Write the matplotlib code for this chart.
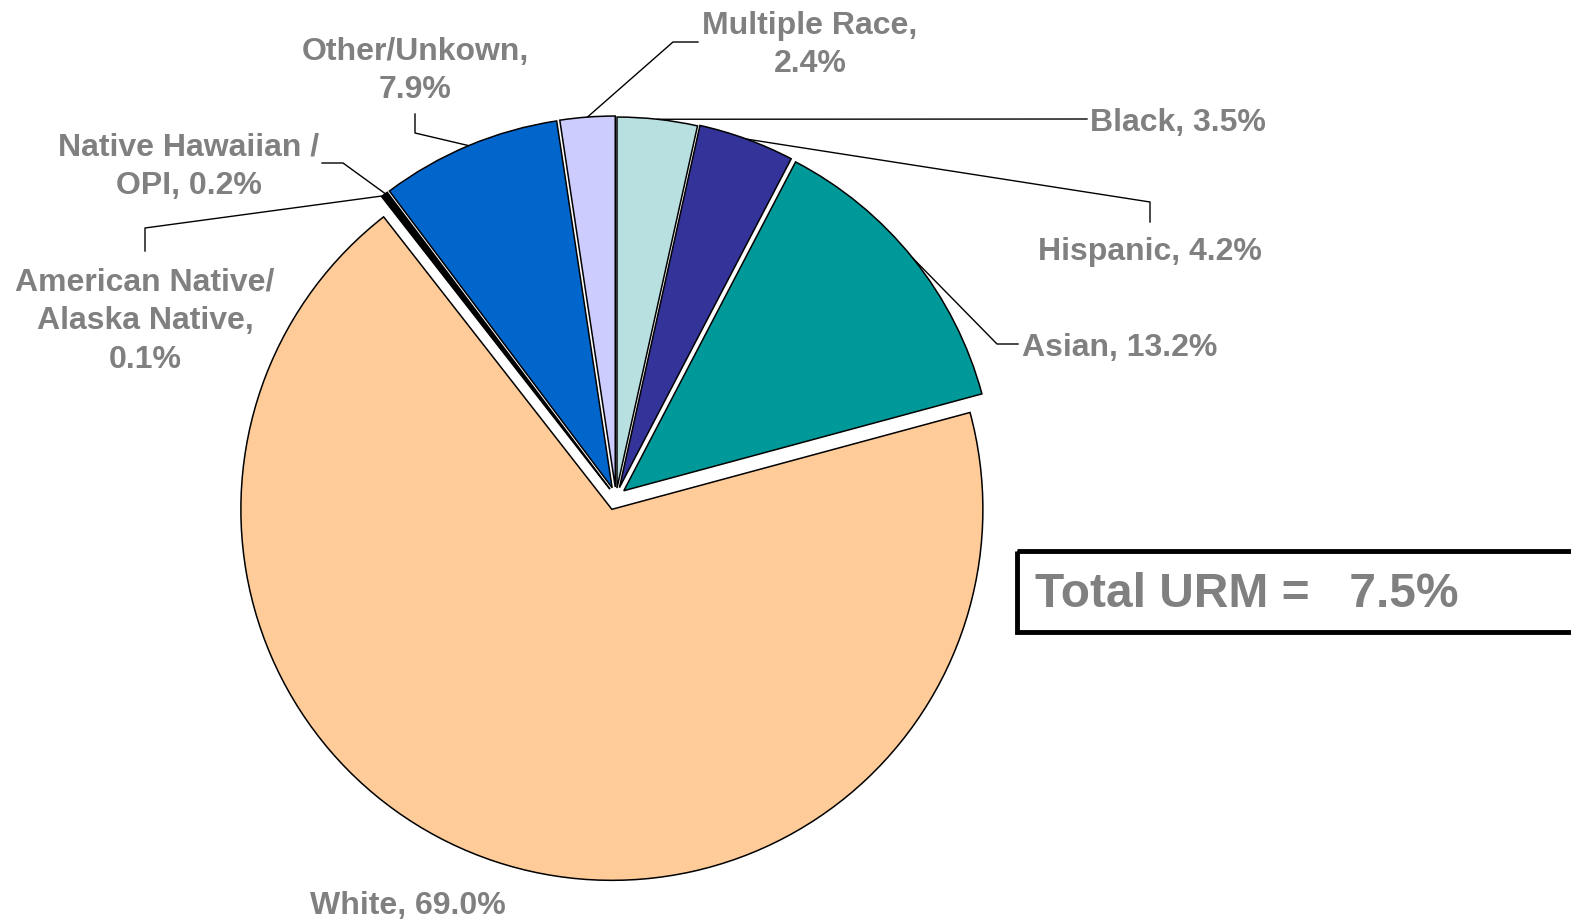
import numpy as np
import matplotlib.pyplot as plt
from matplotlib.patches import Rectangle

# share of each group, clockwise from 12 o'clock
groups = ["Black", "Hispanic", "Asian", "White",
          "American Native/\nAlaska Native", "Native Hawaiian /\nOPI",
          "Other/Unkown", "Multiple Race"]
shares = [3.5, 4.2, 13.2, 69.0, 0.1, 0.2, 7.9, 2.4]
wrapped = [False, False, False, False, True, False, True, True]
urm_total = 7.5

colors = ["#B8E0E1", "#333399", "#009999", "#FFCC99",
          "#000000", "#000000", "#0066CC", "#CCCCFF"]
explode = [9, 10, 10, 13, 10, 10, 10, 10]

GRAY = "#808080"
FONT = "Liberation Sans"

# label placement: (x, y, ha, elbow points from the wedge out to the text)
label_pos = [
    (1090, 123, "left", [(1087, 120)]),
    (1150, 252, "center", [(1150, 203), (1150, 223)]),
    (1022, 348, "left", [(997, 345), (1018, 345)]),
    (408, 906, "center", []),
    (145, 321, "center", [(145, 229), (145, 252)]),
    (189, 167, "center", [(343, 164), (322, 164)]),
    (415, 71, "center", [(415, 134), (415, 115)]),
    (810, 45, "center", [(673, 43), (698, 43)]),
]

fig = plt.figure(figsize=(15.71, 9.2), dpi=100)
ax = fig.add_axes([0, 0, 1, 1])

wedges, _ = ax.pie(shares, colors=colors, explode=explode, radius=371,
                   center=(616, 498), startangle=-90, counterclock=True,
                   wedgeprops=dict(edgecolor="black", linewidth=1.1))
ax.set_xlim(0, 1571)
ax.set_ylim(920, 0)
ax.axis("off")

for w, name, val, wrap, (tx, ty, ha, elbow) in zip(wedges, groups, shares, wrapped, label_pos):
    sep = ",\n" if wrap else ", "
    ax.text(tx, ty, f"{name}{sep}{val:.1f}%", ha=ha, va="center",
            ma="center", fontsize=23, fontweight="bold", color=GRAY,
            family=FONT, linespacing=1.38)
    if elbow:
        tm = np.deg2rad((w.theta1 + w.theta2) / 2)
        cx, cy = w.center
        start = (cx + w.r * np.cos(tm), cy + w.r * np.sin(tm))
        pts = [start] + elbow
        ax.plot([p[0] for p in pts], [p[1] for p in pts],
                color="black", linewidth=1.0)

ax.add_patch(Rectangle((1017, 552), 620, 81, fill=False,
                       edgecolor="black", linewidth=3.5))
ax.text(1035, 595, f"Total URM =   {urm_total:.1f}%", ha="left", va="center",
        fontsize=34.5, fontweight="bold", color=GRAY, family=FONT)

fig.savefig("out.png", dpi=100)
